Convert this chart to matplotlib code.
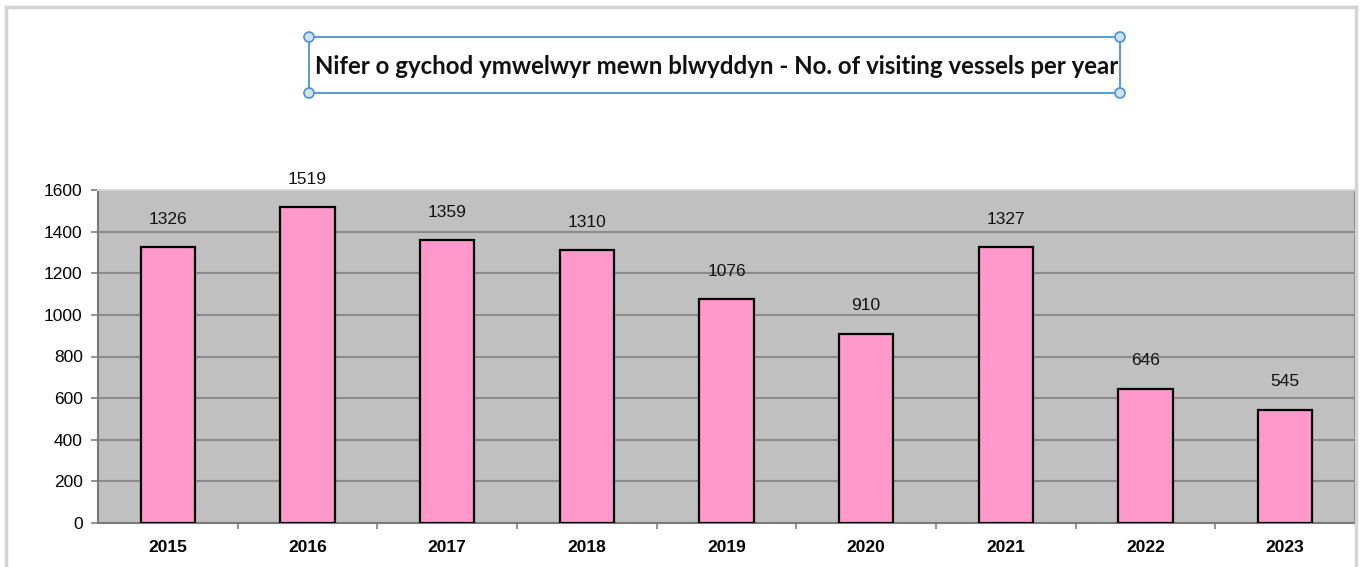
import matplotlib
matplotlib.use("Agg")
import matplotlib.pyplot as plt
from matplotlib.lines import Line2D
from matplotlib.patches import Rectangle, Ellipse

years = ["2015", "2016", "2017", "2018", "2019", "2020", "2021", "2022", "2023"]
vessels = [1326, 1519, 1359, 1310, 1076, 910, 1327, 646, 545]
y_ticks = [0, 200, 400, 600, 800, 1000, 1200, 1400, 1600]
title = "Nifer o gychod ymwelwyr mewn blwyddyn - No. of visiting vessels per year"

W, H = 1362, 567
fig = plt.figure(figsize=(W / 100, H / 100), dpi=100)

def fx(px):
    return px / W

def fy(py):
    return 1 - py / H

# 外框（浅灰）
frame = dict(color="#d4d4d4", linewidth=2.5, transform=fig.transFigure)
fig.add_artist(Line2D([fx(6), fx(1356)], [fy(7), fy(7)], **frame))
fig.add_artist(Line2D([fx(6), fx(6)], [fy(7), fy(567)], **frame))
fig.add_artist(Line2D([fx(1356), fx(1356)], [fy(7), fy(567)], **frame))

# 标题文本框 + 蓝色控制点
bx0, bx1, by0, by1 = 309, 1120, 37, 93
fig.add_artist(Rectangle((fx(bx0), fy(by1)), fx(bx1) - fx(bx0), fy(by0) - fy(by1),
                         transform=fig.transFigure, fill=False,
                         edgecolor="#4a90d9", linewidth=1.3))
for cx in (bx0, bx1):
    for cy in (by0, by1):
        fig.add_artist(Ellipse((fx(cx), fy(cy)), 10 / W, 10 / H, transform=fig.transFigure,
                               facecolor="#cfe3f7", edgecolor="#4a90d9", linewidth=1.2))
fig.text(fx((bx0 + bx1) / 2 + 2), fy((by0 + by1) / 2 + 1), title, ha="center", va="center",
         fontsize=17.3, fontweight="bold", family=["Lato", "DejaVu Sans"], color="#111111")

# 绘图区
ax = fig.add_axes([fx(98), fy(523), fx(1355) - fx(98), fy(190) - fy(523)])
ax.set_facecolor("#c0c0c0")
x = range(len(years))
ax.bar(x, vessels, width=0.39, color="#ff99cc", edgecolor="black", linewidth=1.6, zorder=3)
for i, v in enumerate(vessels):
    ax.annotate(str(v), (i, v), xytext=(0, 20), textcoords="offset points",
                ha="center", va="center", fontsize=12.5, family="Liberation Sans",
                color="#111111", annotation_clip=False)

ax.set_xlim(-0.5, len(years) - 0.5)
ax.set_ylim(0, 1600)
ax.set_yticks(y_ticks)
ax.set_yticklabels([str(t) for t in y_ticks], fontsize=12.5, family="Liberation Sans")
ax.set_xticks(list(x))
ax.set_xticklabels(years, fontsize=12.5, family="Liberation Sans", fontweight="bold")
ax.set_xticks([i + 0.5 for i in range(len(years) - 1)], minor=True)
ax.tick_params(axis="x", which="major", length=0, pad=12)
ax.tick_params(axis="x", which="minor", length=4, color="#808080", width=1.2)
ax.tick_params(axis="y", length=5, color="#808080", width=1.2, pad=6)
ax.grid(axis="y", color="#8a8a8a", linewidth=1.5, zorder=1)
ax.set_axisbelow(True)
for side in ("left", "bottom", "right"):
    ax.spines[side].set_color("#7a7a7a")
    ax.spines[side].set_linewidth(1.5)
ax.spines["top"].set_color("#d8d8d8")
ax.spines["top"].set_linewidth(1.5)

plt.savefig("out.png", dpi=100)
